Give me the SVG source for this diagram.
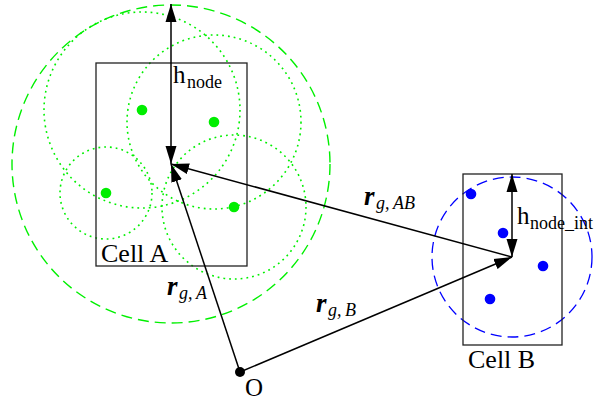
<svg xmlns="http://www.w3.org/2000/svg" width="595" height="401" viewBox="0 0 595 401">
<defs>
<style>
.cell{fill:none;stroke:#222;stroke-width:1.3}
.gdash{fill:none;stroke:#00f000;stroke-width:1.4;stroke-dasharray:11 6}
.gdot{fill:none;stroke:#00f000;stroke-width:1.6;stroke-dasharray:1.8 4}
.bdash{fill:none;stroke:#0000ff;stroke-width:1.3;stroke-dasharray:11 6}
.gnode{fill:#00ee00}
.bnode{fill:#0000ff}
.vec{fill:none;stroke:#000;stroke-width:1.5}
.t{font-family:"Liberation Serif","Times New Roman",serif;fill:#000}
.m{font-size:25px}
.s{font-size:18px}
.ri{font-family:"Liberation Serif","Times New Roman",serif;font-size:27px;font-weight:bold;font-style:italic}
.si{font-family:"Liberation Serif","Times New Roman",serif;font-size:18px;font-style:italic}
</style>
<marker id="ah" markerUnits="userSpaceOnUse" markerWidth="19" markerHeight="12" viewBox="0 0 19 12" refX="18" refY="6" orient="auto-start-reverse">
<path d="M0,0.5 L18,6 L0,11.5 z" fill="#000"/>
</marker>
</defs>
<rect width="595" height="401" fill="#fff"/>
<g id="cellA">
<circle class="gdash" cx="171" cy="164" r="159"/>
<circle class="gdot" cx="142" cy="110" r="98"/>
<circle class="gdot" cx="214" cy="122" r="87"/>
<circle class="gdot" cx="106" cy="193" r="46"/>
<circle class="gdot" cx="234" cy="207" r="72"/>
<rect class="cell" x="96" y="63" width="151" height="203"/>
<circle class="gnode" cx="142" cy="110" r="5.3"/>
<circle class="gnode" cx="214" cy="122" r="5.3"/>
<circle class="gnode" cx="106" cy="193" r="5.3"/>
<circle class="gnode" cx="234" cy="207" r="5.3"/>
<text class="t" x="101" y="262" font-size="26">Cell A</text>
</g>
<g id="cellB">
<circle class="bdash" cx="512" cy="257" r="80"/>
<rect class="cell" x="463" y="174" width="99" height="171"/>
<circle class="bnode" cx="471" cy="194" r="5.3"/>
<circle class="bnode" cx="503" cy="233" r="5.3"/>
<circle class="bnode" cx="543" cy="266" r="5.3"/>
<circle class="bnode" cx="490" cy="299" r="5.3"/>
<text class="t" x="468" y="368" font-size="26">Cell B</text>
</g>
<g id="origin">
<circle cx="240" cy="372" r="5" fill="#000"/>
<text class="t m" x="245" y="396">O</text>
</g>
<g id="connectors">
<line class="vec" x1="171" y1="84" x2="171" y2="4" marker-end="url(#ah)"/>
<line class="vec" x1="171" y1="84" x2="171" y2="164" marker-end="url(#ah)"/>
<line class="vec" x1="512" y1="215" x2="512" y2="174" marker-end="url(#ah)"/>
<line class="vec" x1="512" y1="215" x2="512" y2="257" marker-end="url(#ah)"/>
<line class="vec" x1="240" y1="372" x2="171" y2="164" marker-end="url(#ah)"/>
<line class="vec" x1="240" y1="372" x2="512" y2="257" marker-end="url(#ah)"/>
<line class="vec" x1="512" y1="257" x2="171" y2="164" marker-end="url(#ah)"/>
</g>
<g id="labels">
<text class="t m" x="173" y="83">h<tspan class="s" x="187" y="88">node</tspan></text>
<text class="t m" x="517" y="224">h<tspan class="s" x="530" y="229">node_int</tspan></text>
<text x="167" y="295"><tspan class="ri">r</tspan><tspan class="si" x="179" y="299">g,</tspan><tspan class="si" x="196" y="299">A</tspan></text>
<text x="316" y="312"><tspan class="ri">r</tspan><tspan class="si" x="328" y="316">g,</tspan><tspan class="si" x="345" y="316">B</tspan></text>
<text x="364" y="205"><tspan class="ri">r</tspan><tspan class="si" x="376" y="209">g,</tspan><tspan class="si" x="393" y="209">AB</tspan></text>
</g>
</svg>
